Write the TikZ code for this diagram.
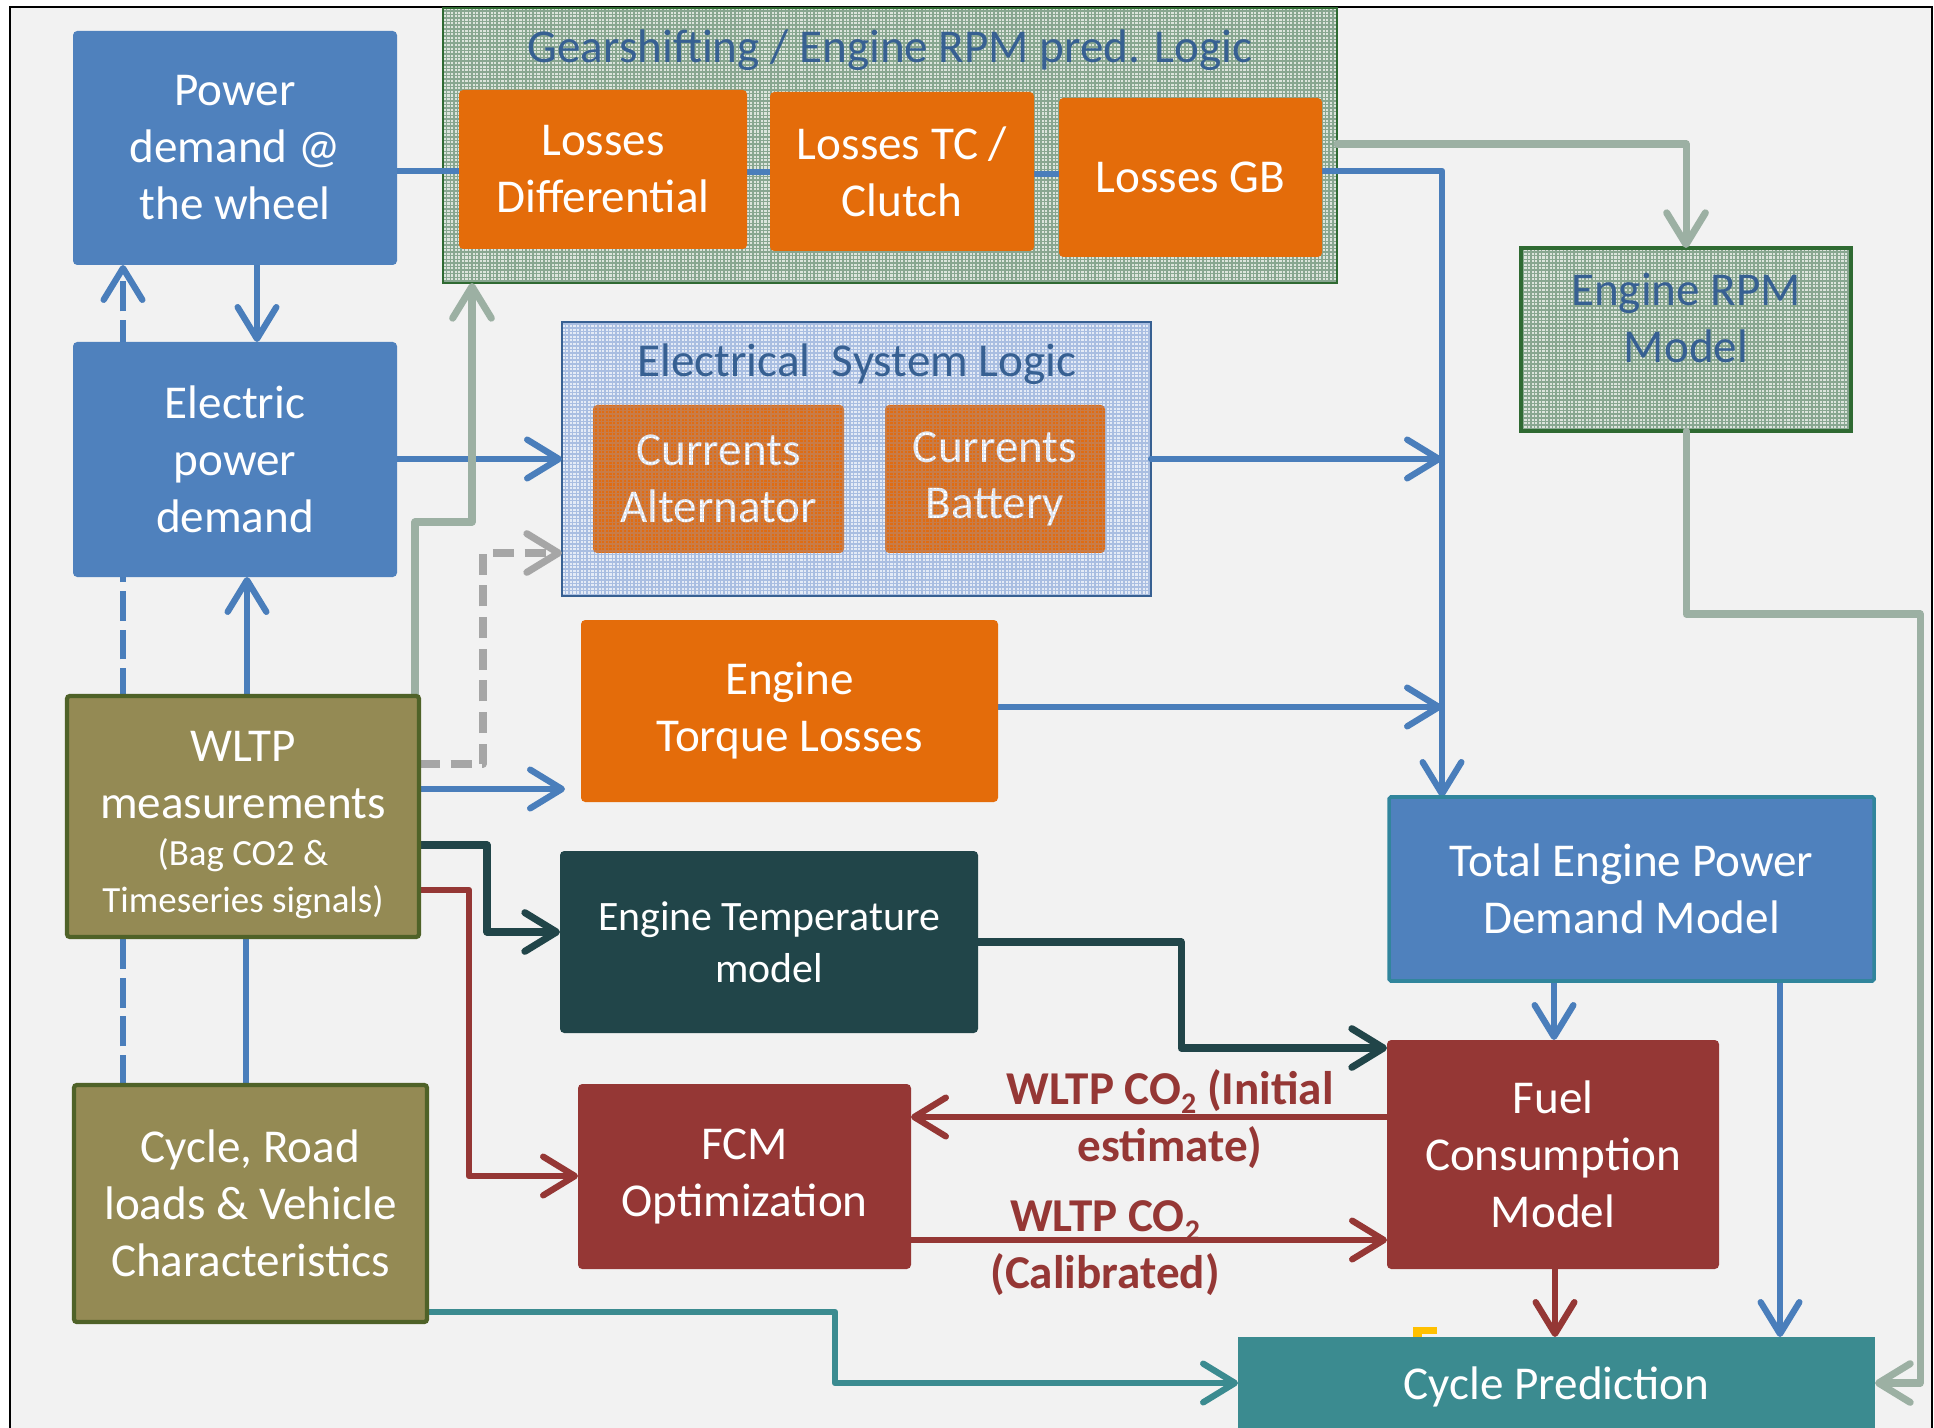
\documentclass[tikz,border=0pt]{standalone}
\usepackage{fontspec}
\setmainfont{Carlito}
\usetikzlibrary{arrows.meta}

\definecolor{bluebox}{HTML}{4F81BD}
\definecolor{blueline}{HTML}{4A7EBB}
\definecolor{orangebox}{HTML}{E46C0A}
\definecolor{curorange}{HTML}{E06C12}
\definecolor{olivebox}{HTML}{948A54}
\definecolor{oliveedge}{HTML}{4F6228}
\definecolor{tempbox}{HTML}{214549}
\definecolor{redbox}{HTML}{953735}
\definecolor{tealbox}{HTML}{3B8B90}
\definecolor{totaledge}{HTML}{31859C}
\definecolor{sage}{HTML}{9CB0A3}
\definecolor{dashgray}{HTML}{A6A6A6}
\definecolor{titleblue}{HTML}{376092}
\definecolor{greenedge}{HTML}{2F6A32}
\definecolor{greenfill}{HTML}{DCE4DC}
\definecolor{greengrid}{HTML}{88A690}
\definecolor{bluefill}{HTML}{E4EBF6}
\definecolor{bluegrid}{HTML}{8AA7D6}
\definecolor{bgpanel}{HTML}{F2F2F2}
\definecolor{markyellow}{HTML}{FFC000}

\pgfdeclarelayer{panel}
\pgfdeclarelayer{groups}
\pgfdeclarelayer{wires}
\pgfsetlayers{panel,groups,wires,main}

\newcommand\fsmain{\fontsize{13.4pt}{16.2pt}\selectfont}
\newcommand\fstemp{\fontsize{11.9pt}{14.8pt}\selectfont}
\newcommand\fssub{\fontsize{10.5pt}{12.6pt}\selectfont}
\newcommand\subtwo{\raisebox{-0.4ex}{\fontsize{8.5pt}{8.5pt}\selectfont 2}}

% box from its corners (x1,y1)-(x2,y2) in pixel units
\newcommand\placebox[7]{%
  \node[#6, minimum width={(#4-#2)*0.01cm}, minimum height={(#5-#3)*0.01cm}]
    (#1) at ({(#2+#4)/2},{(#3+#5)/2}) {#7};}
% fine woven texture over a rectangle
\newcommand\hatchgrid[6]{%
  \begin{scope}
    \clip (#1,#2) rectangle (#3,#4);
    \draw[#5, line width=0.42pt, opacity=#6, step=0.36mm] (#1,#4) grid (#3,#2);
  \end{scope}}

\begin{document}
\begin{tikzpicture}[x=0.01cm, y=-0.01cm,
  >={Straight Barb[length=9pt,width=11pt,round]},
  blk/.style={inner sep=0pt, outer sep=0pt, align=center, text=white,
    font=\fsmain, rounded corners=1.2pt},
  bluebk/.style={blk, fill=bluebox},
  orbk/.style={blk, fill=orangebox},
  olbk/.style={blk, fill=olivebox, draw=oliveedge, line width=1.2pt, rounded corners=0.8pt},
  redbk/.style={blk, fill=redbox},
  grpbox/.style={inner sep=0pt, outer sep=0pt},
  grptitle/.style={text=titleblue, font=\fsmain, inner sep=0pt, align=center},
  wire/.style={line width=1.8pt, line join=round, line cap=round},
  bluew/.style={wire, draw=blueline},
  sagew/.style={wire, draw=sage, line width=2pt},
  redw/.style={wire, draw=redbox},
  darkw/.style={wire, draw=tempbox, line width=2pt},
  tealw/.style={wire, draw=tealbox},
  lbl/.style={align=center, text=redbox, font=\fsmain\bfseries, inner sep=0pt}]

\useasboundingbox (0,0) rectangle (1934,1428);

% background panel
\begin{pgfonlayer}{panel}
  \fill[white] (0,0) rectangle (1934,1428);
  \filldraw[fill=bgpanel, draw=black, line width=0.7pt] (10,7) rectangle (1932,1460);
\end{pgfonlayer}

% grouping frames with their texture
\begin{pgfonlayer}{groups}
  \placebox{gear}{443}{8}{1337}{283}{grpbox, fill=greenfill}{}
  \hatchgrid{443}{8}{1337}{283}{greengrid}{1}
  \draw[greenedge, line width=0.7pt] (gear.north west) rectangle (gear.south east);

  \placebox{esl}{562}{322}{1151}{596}{grpbox, fill=bluefill}{}
  \hatchgrid{562}{322}{1151}{596}{bluegrid}{0.65}
  \placebox{alt}{593}{405}{844}{553}{orbk, fill=curorange}{Currents\\Alternator}
  \placebox{bat}{885}{405}{1105}{553}{orbk, fill=curorange}{Currents\\Battery}
  \hatchgrid{593}{405}{844}{553}{bluegrid}{0.28}
  \hatchgrid{885}{405}{1105}{553}{bluegrid}{0.28}
  \draw[titleblue, line width=0.7pt] (esl.north west) rectangle (esl.south east);

  \placebox{rpm}{1521}{248}{1851}{431}{grpbox, fill=greenfill}{}
  \hatchgrid{1521}{248}{1851}{431}{greengrid}{1}
  \draw[greenedge, line width=0.9pt] (rpm.north west) rectangle (rpm.south east);
\end{pgfonlayer}

\node[grptitle, anchor=base] (geartitle) at (890,63) {Gearshifting / Engine RPM pred. Logic};
\node[grptitle, anchor=base] (esltitle) at (857,377) {Electrical\ \ System Logic};
\node[grptitle] (rpmtitle) at (1686,318) {Engine RPM\\Model};

% blocks
\placebox{power}{73}{31}{397}{265}{bluebk}{Power\\demand @\\the wheel}
\placebox{elec}{73}{342}{397}{577}{bluebk}{Electric\\power\\demand}
\placebox{diff}{459}{90}{747}{249}{orbk}{Losses\\Differential}
\placebox{tc}{770}{92}{1034}{251}{orbk}{Losses TC /\\Clutch}
\placebox{gb}{1059}{98}{1322}{257}{orbk}{Losses GB}
\placebox{torque}{581}{620}{998}{802}{orbk}{Engine\\Torque Losses}
\placebox{wltp}{67}{696}{419}{937}{olbk}{}
\node[blk, rounded corners=0pt] (wltptext) at (243,825)
  {WLTP\\measurements\\[-2.8pt]\fssub (Bag CO2 \&\\[-3.1pt]\fssub Timeseries signals)};
\placebox{cycle}{74}{1085}{427}{1322}{olbk}{Cycle, Road\\loads \& Vehicle\\Characteristics}
\placebox{temp}{560}{851}{978}{1033}{blk, fill=tempbox, font=\fstemp}{Engine Temperature\\model}
\placebox{total}{1389}{797}{1874}{981}{bluebk, draw=totaledge, line width=1pt, rounded corners=0.5pt}{Total Engine Power\\Demand Model}
\placebox{fc}{1387}{1040}{1719}{1269}{redbk}{Fuel\\Consumption\\Model}
\placebox{fcm}{578}{1084}{911}{1269}{redbk}{FCM\\Optimization}
\placebox{pred}{1238}{1337}{1875}{1436}{blk, fill=tealbox, rounded corners=0pt}{Cycle Prediction}

\node[lbl] (initlab) at (1170,1119) {WLTP CO\subtwo{} (Initial\\estimate)};
\node[lbl] (callab) at (1105,1248) {WLTP CO\subtwo\\(Calibrated)};

\coordinate (busA) at (1442,459);
\coordinate (busB) at (1442,707);

% connectors
\begin{pgfonlayer}{wires}
  \fill[markyellow] (1413,1327) rectangle (1437,1334);
  \fill[markyellow] (1413,1327) rectangle (1422,1340);

  % drive-line chain and power bus
  \draw[bluew] (power.east |- 0,171) -- (diff.west |- 0,171);
  \draw[bluew] (diff.east |- 0,172) -- (tc.west |- 0,172);
  \draw[bluew] (tc.east |- 0,174) -- (gb.west |- 0,174);
  \draw[bluew,->] (gb.east |- 0,171) -| (total.north -| 1442,0);
  \draw[bluew,->] (esl.east |- 0,459) -- (busA);
  \draw[bluew,->] (torque.east |- 0,707) -- (busB);

  % left column
  \draw[bluew,->] (power.south -| 257,0) -- (elec.north -| 257,0);
  \draw[wire, draw=blueline, line cap=butt, dash pattern=on 8.5pt off 2.5pt, ->]
    (cycle.north -| 123,0) -- (power.south -| 123,0);
  \draw[bluew,->] (wltp.north -| 247,0) -- (elec.south -| 247,0);
  \draw[bluew] (cycle.north -| 246,0) -- (wltp.south -| 246,0);
  \draw[bluew,->] (elec.east |- 0,459) -- (esl.west |- 0,459);

  % from the measurements
  \draw[sagew,->] (wltp.north -| 415,0) |- (472,522) -- (gear.south -| 472,0);
  \draw[wire, draw=dashgray, line width=2pt, line cap=butt, dash pattern=on 6pt off 3pt, ->]
    (wltp.east |- 0,764) -| (483,553) -- (esl.west |- 0,553);
  \draw[bluew,->, shorten >=0.16cm] (wltp.east |- 0,789) -- (torque.west |- 0,789);
  \draw[darkw,->] (wltp.east |- 0,845) -| (487,932) -- (temp.west |- 0,932);
  \draw[redw,->] (wltp.east |- 0,890) -| (469,1176) -- (fcm.west |- 0,1176);
  \draw[tealw,->] (cycle.east |- 0,1312) -| (835,1383) -- (pred.west |- 0,1383);

  % engine speed path
  \draw[sagew,->] (gear.east |- 0,144) -| (rpm.north);
  \draw[sagew,->] (rpm.south) |- (1920,614) |- (pred.east |- 0,1383);

  % fuel consumption loop
  \draw[darkw,->] (temp.east |- 0,942) -| (1181,1048) -- (fc.west |- 0,1048);
  \draw[bluew,->] (total.south -| 1554,0) -- (fc.north -| 1554,0);
  \draw[bluew,->] (total.south -| 1780,0) -- (pred.north -| 1780,0);
  \draw[redw,->] (fc.south -| 1555,0) -- (pred.north -| 1555,0);
  \draw[redw,->] (fc.west |- 0,1117) -- (fcm.east |- 0,1117);
  \draw[redw,->] (fcm.east |- 0,1240) -- (fc.west |- 0,1240);
\end{pgfonlayer}
\end{tikzpicture}
\end{document}
